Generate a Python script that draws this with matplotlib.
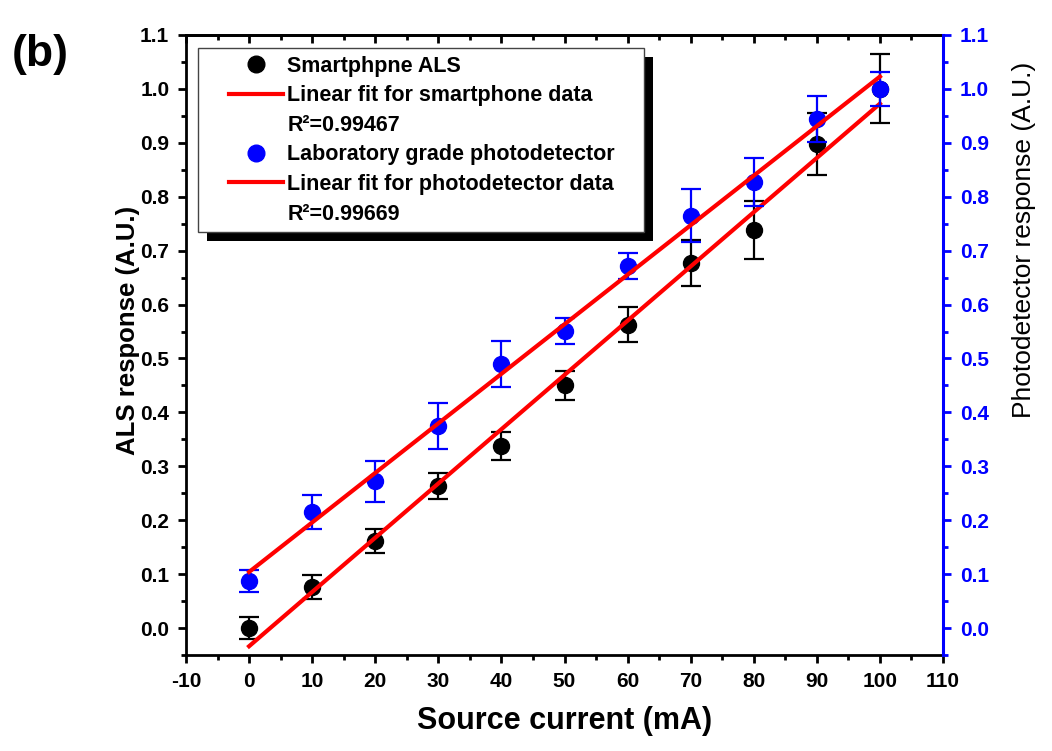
import numpy as np
import matplotlib
matplotlib.use("Agg")
import matplotlib.pyplot as plt
from matplotlib.lines import Line2D
from matplotlib.patches import Rectangle
from matplotlib.transforms import IdentityTransform

plt.rcParams['font.family'] = ['Liberation Sans', 'DejaVu Sans']
plt.rcParams['axes.unicode_minus'] = False

# Source current (mA)
current = [0, 10, 20, 30, 40, 50, 60, 70, 80, 90, 100]

# Smartphone ALS response and error
als = [0.0, 0.076, 0.162, 0.263, 0.337, 0.450, 0.563, 0.677, 0.738, 0.898, 1.0]
als_err = [0.021, 0.022, 0.022, 0.024, 0.026, 0.027, 0.033, 0.042, 0.054, 0.057, 0.064]

# Laboratory photodetector response and error
pd = [0.087, 0.215, 0.272, 0.375, 0.490, 0.551, 0.672, 0.765, 0.827, 0.944, 1.0]
pd_err = [0.020, 0.031, 0.038, 0.043, 0.042, 0.025, 0.024, 0.049, 0.045, 0.042, 0.031]

r2_als = "0.99467"
r2_pd = "0.99669"

x = np.array(current)
fit_als = np.polyfit(x, als, 1)
fit_pd = np.polyfit(x, pd, 1)

fig = plt.figure(figsize=(10.52, 7.51), dpi=100)
ax = fig.add_axes([0.1768, 0.1278, 0.7196, 0.8256])
ax2 = ax.twinx()

ax.errorbar(current, als, yerr=als_err, fmt='o', color='black', ms=11.5,
            ecolor='black', elinewidth=1.6, capsize=7, capthick=1.6, zorder=3)
ax.plot(x, np.polyval(fit_als, x), color='red', lw=3, zorder=4)

ax2.errorbar(current, pd, yerr=pd_err, fmt='o', color='blue', ms=11.5,
             ecolor='blue', elinewidth=1.6, capsize=7, capthick=1.6, zorder=3)
ax2.plot(x, np.polyval(fit_pd, x), color='red', lw=3, zorder=4)

for a in (ax, ax2):
    a.set_ylim(-0.05, 1.1)
    a.set_yticks(np.arange(0, 1.11, 0.1))
    a.set_yticks(np.arange(-0.05, 1.11, 0.05), minor=True)
    a.yaxis.set_major_formatter(matplotlib.ticker.FormatStrFormatter('%.1f'))

ax.set_xlim(-10, 110)
ax.set_xticks(np.arange(-10, 111, 10))
ax.set_xticks(np.arange(-10, 111, 5), minor=True)

for s in ax.spines.values():
    s.set_linewidth(2)
for k, s in ax2.spines.items():
    s.set_visible(k == 'right')
ax2.spines['right'].set_color('blue')
ax2.spines['right'].set_linewidth(2.2)

ax.tick_params(axis='both', which='major', direction='out', length=6, width=2)
ax.tick_params(axis='both', which='minor', direction='out', length=3.5, width=2)
ax.tick_params(axis='y', left=True, right=False, pad=6, labelsize=15)
ax.tick_params(axis='x', pad=6, labelsize=15)
ax2.tick_params(axis='y', which='major', direction='out', length=6, width=2,
                colors='blue', labelsize=15, labelcolor='blue', pad=6)
ax2.tick_params(axis='y', which='minor', direction='out', length=3.5, width=2,
                colors='blue')

for lab in ax.get_yticklabels() + ax2.get_yticklabels() + ax.get_xticklabels():
    lab.set_fontweight('bold')

top = ax.secondary_xaxis('top')
top.set_xticks(np.arange(-10, 111, 10))
top.set_xticks(np.arange(-10, 111, 5), minor=True)
top.tick_params(which='major', direction='in', length=6, width=2, labeltop=False)
top.tick_params(which='minor', direction='in', length=3.5, width=2)
top.spines['top'].set_linewidth(2)

ax.set_xlabel('Source current (mA)', fontsize=22, fontweight='bold')
ax.xaxis.set_label_coords(0.5, -0.083)
ax.set_ylabel('ALS response (A.U.)', fontsize=18.5, fontweight='bold')
ax.yaxis.set_label_coords(-0.061, 0.524)
ax2.set_ylabel('Photodetector response (A.U.)', fontsize=19)
ax2.yaxis.set_label_coords(1.091, 0.67)

fig.text(0.011, 0.927, '(b)', fontsize=32, fontweight='bold', va='center')

handles = [
    Line2D([], [], marker='o', color='black', ls='none', ms=12),
    Line2D([], [], color='red', lw=3),
    Line2D([], [], ls='none'),
    Line2D([], [], marker='o', color='blue', ls='none', ms=12),
    Line2D([], [], color='red', lw=3),
    Line2D([], [], ls='none'),
]
labels = ['Smartphpne ALS', 'Linear fit for smartphone data', 'R²=' + r2_als,
          'Laboratory grade photodetector', 'Linear fit for photodetector data',
          'R²=' + r2_pd]
leg = ax2.legend(handles, labels, loc='upper left', bbox_to_anchor=(0.047, 0.979),
                 borderaxespad=0, frameon=False,
                 prop={'weight': 'bold', 'size': 15.5}, handlelength=2.5,
                 labelspacing=0.4, handletextpad=0.2, borderpad=0.35)
leg.set_zorder(10)

# boxed legend with a solid black drop shadow
fig.canvas.draw()
bb = leg.get_window_extent()
x0, x1 = bb.x0 - 24, bb.x1 + 22
box = Rectangle((x0, bb.y0), x1 - x0, bb.height, transform=IdentityTransform(),
                facecolor='white', edgecolor='#444444', lw=1, zorder=9)
shadow = Rectangle((x0 + 9, bb.y0 - 9), x1 - x0, bb.height,
                   transform=IdentityTransform(), facecolor='black',
                   edgecolor='none', zorder=8)
ax2.add_artist(shadow)
ax2.add_artist(box)

fig.savefig('out.png', dpi=100)
